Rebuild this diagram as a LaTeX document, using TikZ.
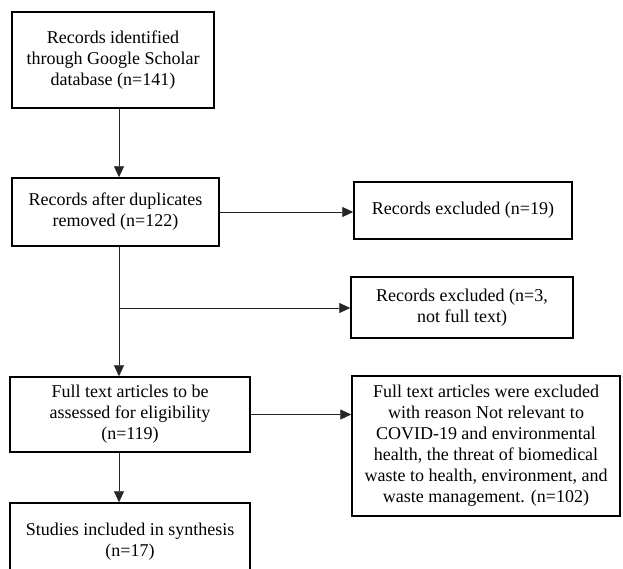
\documentclass[tikz,border=0pt]{standalone}
\usepackage{fontspec}
\setmainfont{Liberation Serif}
\usetikzlibrary{arrows.meta,calc}
\begin{document}
\begin{tikzpicture}[x=1pt,y=-1pt,
  box/.style={draw=black,line width=1.5pt,align=center,inner sep=0pt,
    font=\fontsize{18}{21}\selectfont},
  arr/.style={draw=black!85,line width=0.9pt,-{Triangle[length=11pt,width=10pt]}}]
\useasboundingbox (0,0) rectangle (623,568);
\clip (0,0) rectangle (623,568);
\fill[white] (0,0) rectangle (623,568);
\node[box,minimum width=202pt,minimum height=96pt] (b1) at (113,60)
  {Records identified\\through Google Scholar\\database (n=141)};
\node[box,minimum width=207pt,minimum height=68pt] (b2) at (115.5,212)
  {Records after duplicates\\removed (n=122)};
\node[box,minimum width=218pt,minimum height=57pt] (x1) at (463,210.5)
  {Records excluded (n=19)};
\node[box,minimum width=222pt,minimum height=61pt] (x2) at (462,307.5)
  {Records excluded (n=3,\\not full text)};
\node[box,minimum width=240pt,minimum height=75pt] (b4) at (130,414.5)
  {Full text articles to be\\assessed for eligibility\\(n=119)};
\node[box,minimum width=268pt,minimum height=140pt] (b5) at (486,446)
  {Full text articles were excluded\\with reason Not relevant to\\COVID-19 and environmental\\health, the threat of biomedical\\waste to health, environment, and\\waste management. (n=102)};
\node[box,minimum width=240pt,minimum height=77pt] (b6) at (130,541.5)
  {Studies included in synthesis\\(n=17)};
\coordinate (vx) at (119,0);
\coordinate (br) at (119,308);
\draw[arr] (b1.south -| vx) -- (b2.north -| vx);
\draw[arr] (b2.east) -- (b2.east -| x1.west);
\draw[arr] (b2.south -| vx) -- (b4.north -| vx);
\draw[arr] (br) -- (br -| x2.west);
\draw[arr] (b4.east) -- (b4.east -| b5.west);
\draw[arr] (b4.south -| vx) -- (b6.north -| vx);
\end{tikzpicture}
\end{document}
